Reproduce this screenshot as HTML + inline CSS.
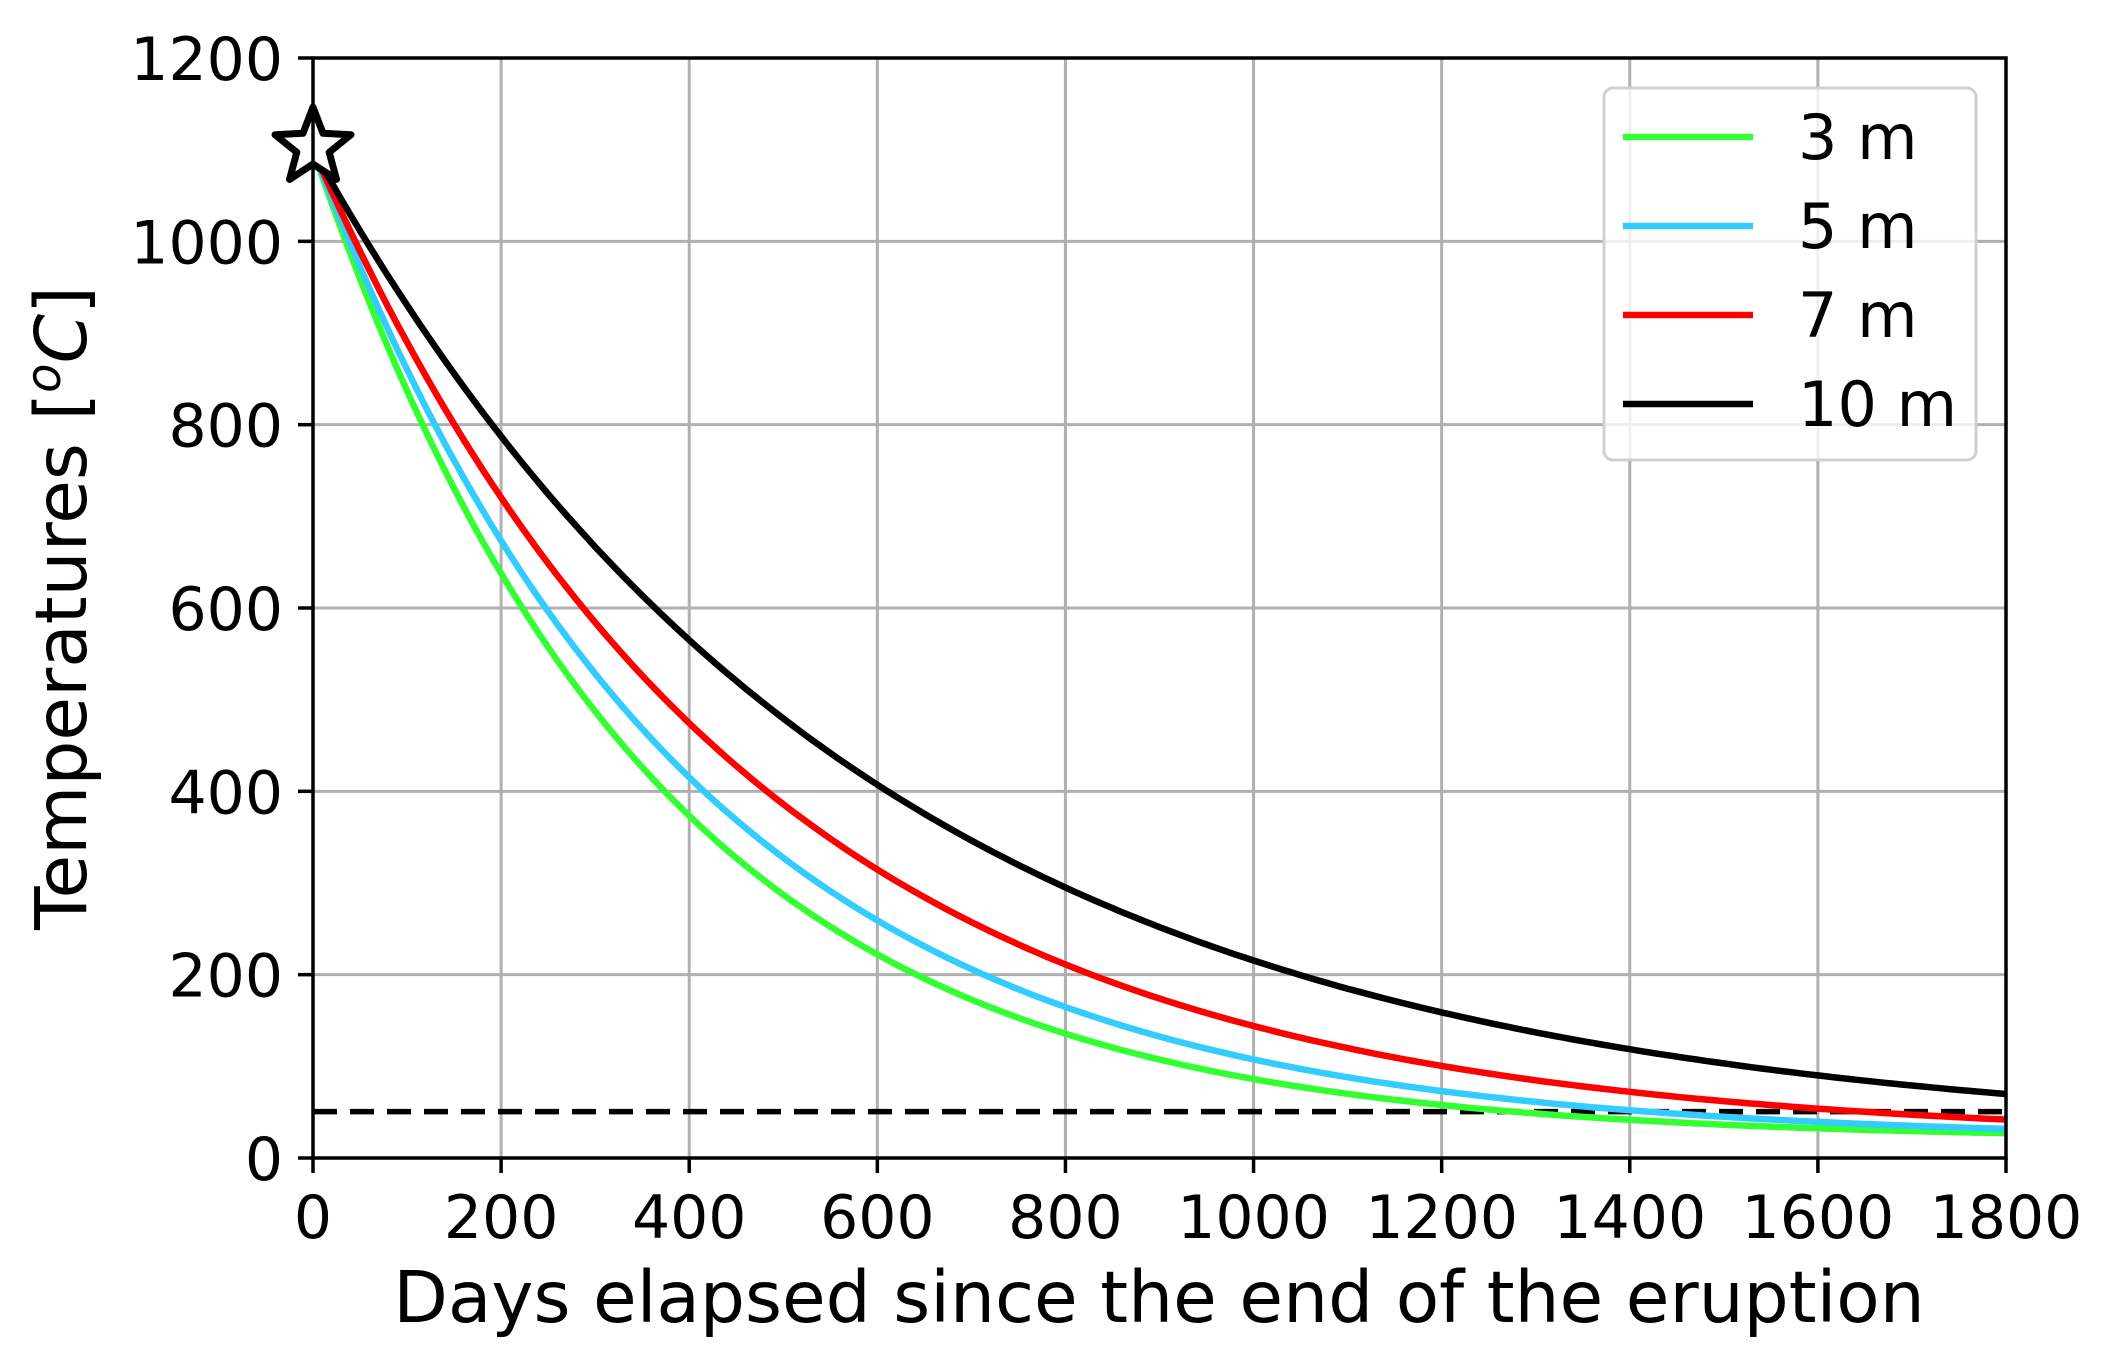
<!DOCTYPE html>
<html><head><meta charset="utf-8"><style>
html,body{margin:0;padding:0;background:#fff;}
svg{display:block;font-family:"DejaVu Sans","Liberation Sans",sans-serif;}
</style></head><body>
<svg id="s" width="2101" height="1360" viewBox="0 0 2101 1360" xmlns="http://www.w3.org/2000/svg">
<g id="grid" stroke="#b0b0b0" stroke-width="3"></g>
<line x1="313" y1="1111.6" x2="2006" y2="1111.6" stroke="#000" stroke-width="5.5" stroke-dasharray="24,13"/>
<g id="curves" fill="none" stroke-width="6.5"></g>
<polygon id="star" fill="#fff" stroke="#000" stroke-width="7" stroke-linejoin="round"></polygon>
<rect x="313" y="58" width="1693" height="1100" fill="none" stroke="#000" stroke-width="3.5"/>
<g id="ticks" stroke="#000" stroke-width="3.5"></g>
<g id="labels" font-size="60" fill="#000"></g>
<text x="1159" y="1322" font-size="71" text-anchor="middle">Days elapsed since the end of the eruption</text>
<text transform="translate(86,608) rotate(-90)" font-size="71" text-anchor="middle">Temperatures [<tspan font-style="italic" font-size="48" dy="-26">o</tspan><tspan font-style="italic" dy="26">C</tspan>]</text>
<rect x="1604" y="88" width="372" height="372" rx="9" fill="#fff" fill-opacity="0.8" stroke="#d0d0d0" stroke-width="3"/>
<g stroke-width="6.5">
<line x1="1623" y1="137" x2="1753" y2="137" stroke="#33ff33"/>
<line x1="1623" y1="226" x2="1753" y2="226" stroke="#33ccff"/>
<line x1="1623" y1="315" x2="1753" y2="315" stroke="#ff0000"/>
<line x1="1623" y1="404" x2="1753" y2="404" stroke="#000"/>
</g>
<g font-size="62" fill="#000">
<text x="1798" y="159">3 m</text>
<text x="1798" y="248">5 m</text>
<text x="1798" y="337">7 m</text>
<text x="1798" y="426">10 m</text>
</g>
</svg>
<script>
var NS="http://www.w3.org/2000/svg";
function X(t){return 313+t/1800*1693;}
function Y(v){return 1158-v/1200*1100;}
function el(n,a,p){var e=document.createElementNS(NS,n);for(var k in a)e.setAttribute(k,a[k]);document.getElementById(p).appendChild(e);return e;}
for(var t=200;t<1800;t+=200){el("line",{x1:X(t),y1:58,x2:X(t),y2:1158},"grid");}
for(var v=200;v<1200;v+=200){el("line",{x1:313,y1:Y(v),x2:2006,y2:Y(v)},"grid");}
for(var t=0;t<=1800;t+=200){el("line",{x1:X(t),y1:1158,x2:X(t),y2:1173},"ticks");var tx=el("text",{x:X(t),y:1238,"text-anchor":"middle"},"labels");tx.textContent=t;}
for(var v=0;v<=1200;v+=200){el("line",{x1:298,y1:Y(v),x2:313,y2:Y(v)},"ticks");var tx=el("text",{x:283,y:Y(v)+22,"text-anchor":"end"},"labels");tx.textContent=v;}
var S=[["#33ff33",358,20],["#33ccff",398,20],["#ff0000",462,20],["#000",585,20]];
S.forEach(function(s){var d="";for(var t=0;t<=1800;t+=10){var v=s[2]+(1100-s[2])*Math.exp(-t/s[1]);d+=(t?"L":"M")+X(t).toFixed(1)+","+Y(v).toFixed(1);}el("path",{d:d,stroke:s[0]},"curves");});
var cx=X(0),cy=Y(1105)+2,R=40,r=17,pts=[];
for(var i=0;i<10;i++){var a=-Math.PI/2+i*Math.PI/5,rr=i%2?r:R;pts.push((cx+rr*Math.cos(a)).toFixed(1)+","+(cy+rr*Math.sin(a)).toFixed(1));}
document.getElementById("star").setAttribute("points",pts.join(" "));
</script>
</body></html>
